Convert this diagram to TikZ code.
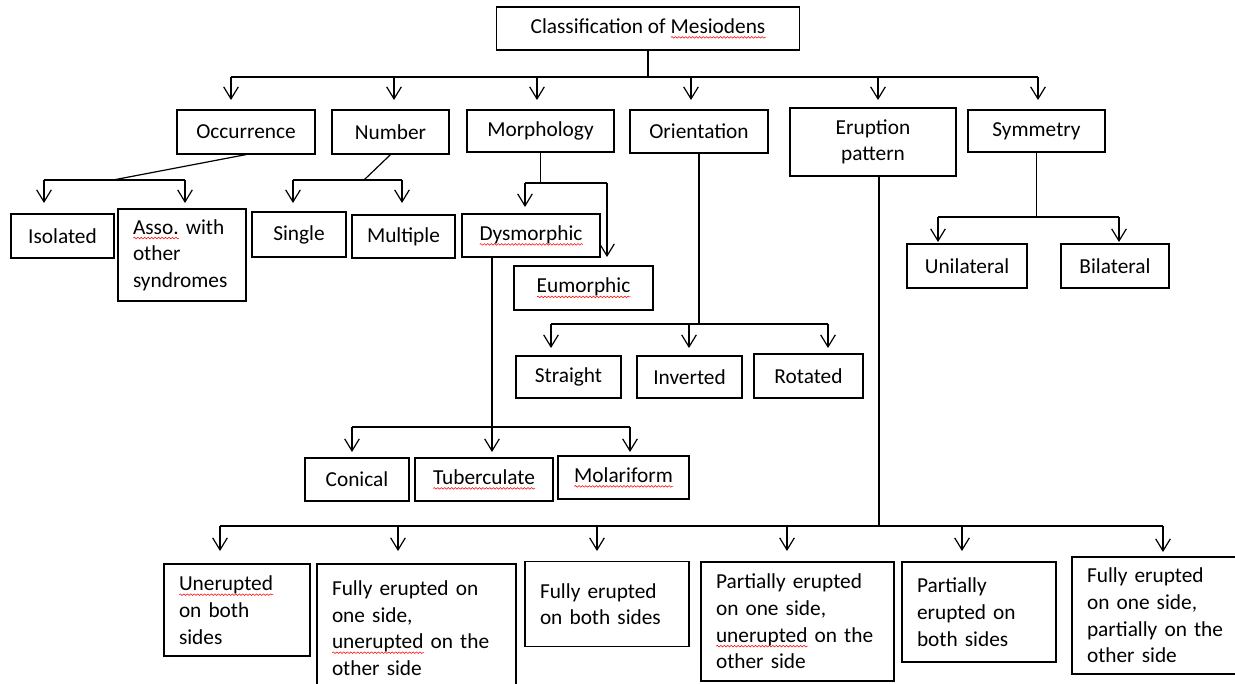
\documentclass[tikz,border=0pt]{standalone}
\usepackage{fontspec}
\setmainfont{Carlito}
\usetikzlibrary{arrows.meta,decorations.pathmorphing}
\frenchspacing

% red spell-check wave under a word
\newsavebox\spellbox
\newcommand\spell[1]{\leavevmode\sbox\spellbox{#1}\rlap{\tikz[baseline=3pt]\draw[red,line width=0.4pt,
  decorate,decoration={snake,amplitude=0.6pt,segment length=2.6pt}] (0pt,0pt) -- (\wd\spellbox,0pt);}#1}

\begin{document}
\begin{tikzpicture}[x=0.75pt,y=-0.75pt,line width=0.9pt,
  >={Straight Barb[length=9pt,width=11pt]},
  box/.style={draw,inner sep=0pt,align=center,font=\fontsize{16}{20}\selectfont},
  tbox/.style={box,align=left,inner xsep=11.25pt}]
\useasboundingbox (0,0) rectangle (1235,683);

% Title and first level
\node[box,minimum width=227.25pt,minimum height=32.25pt] (title) at (648,28.5) {Classification of \spell{Mesiodens}};
\node[box,minimum width=103.5pt,minimum height=33pt] (occ) at (246,132) {Occurrence};
\node[box,minimum width=87.75pt,minimum height=33pt] (num) at (390.5,132) {Number};
\node[box,minimum width=110.25pt,minimum height=31.5pt] (mor) at (540.5,131) {Morphology};
\node[box,minimum width=103.5pt,minimum height=32.25pt] (ori) at (699,131.5) {Orientation};
\node[box,minimum width=124.5pt,minimum height=51pt] (eru) at (873,142) {Eruption\\pattern};
\node[box,minimum width=102.75pt,minimum height=31.5pt] (sym) at (1036.5,131) {Symmetry};

% Second level
\node[box,minimum width=77.25pt,minimum height=33pt] (iso) at (62.5,236) {Isolated};
\node[tbox,text width=73.5pt,minimum height=69pt] (asso) at (182,255) {\spell{Asso.} with\\other\\syndromes};
\node[box,minimum width=70.5pt,minimum height=33.75pt] (sing) at (299,234.5) {Single};
\node[box,minimum width=77.25pt,minimum height=32.25pt] (mult) at (403.5,236.5) {Multiple};
\node[box,minimum width=103.5pt,minimum height=32.25pt] (dys) at (531,235.5) {\spell{Dysmorphic}};
\node[box,minimum width=104.25pt,minimum height=33pt] (eum) at (583.5,288) {\spell{Eumorphic}};
\node[box,minimum width=78.75pt,minimum height=31.5pt] (str) at (568.5,377) {Straight};
\node[box,minimum width=78.75pt,minimum height=31.5pt] (inv) at (689.5,377) {Inverted};
\node[box,minimum width=81.75pt,minimum height=33pt] (rot) at (808.5,376) {Rotated};
\node[box,minimum width=78pt,minimum height=32.25pt] (con) at (357,479.5) {Conical};
\node[box,minimum width=103.5pt,minimum height=32.25pt] (tub) at (484,479.5) {\spell{Tuberculate}};
\node[box,minimum width=98.25pt,minimum height=32.25pt] (mol) at (623.5,477.5) {\spell{Molariform}};
\node[box,minimum width=90pt,minimum height=33pt] (uni) at (967,266) {Unilateral};
\node[box,minimum width=81pt,minimum height=33pt] (bil) at (1115,266) {Bilateral};

% Eruption pattern boxes
\node[tbox,text width=87pt,minimum height=69pt] (b1) at (237,610) {\spell{Unerupted}\\on both\\sides};
\node[tbox,text width=126.75pt,minimum height=96pt] (b2) at (416.5,628) {Fully erupted on\\one side,\\\spell{unerupted} on the\\other side};
\node[tbox,text width=100.5pt,minimum height=63.75pt] (b3) at (607,604) {Fully erupted\\on both sides};
\node[tbox,text width=122.25pt,minimum height=89.25pt] (b4) at (797.5,621.5) {Partially erupted\\on one side,\\\spell{unerupted} on the\\other side};
\node[tbox,text width=93pt,minimum height=75pt] (b5) at (979,612) {Partially\\erupted on\\both sides};
\node[tbox,text width=111pt,minimum height=87.75pt] (b6) at (1161,615.5) {Fully erupted\\on one side,\\partially on the\\other side};

% Junctions and arrow tips
\coordinate (top) at (648,77);
\coordinate (tOcc) at (231,100); \coordinate (tNum) at (394,100);
\coordinate (tMor) at (537,100); \coordinate (tOri) at (691,100);
\coordinate (tEru) at (878,100); \coordinate (tSym) at (1038,100);

\coordinate (jOcc) at (113,180); \coordinate (tIso) at (44,203); \coordinate (tAsso) at (185,203);
\coordinate (jNum) at (364,180); \coordinate (tSing) at (293,203); \coordinate (tMult) at (402,203);
\coordinate (jMor) at (540.5,183); \coordinate (tDys) at (525,207); \coordinate (tEum) at (607,257);
\coordinate (jOri) at (699,324); \coordinate (tStr) at (551,348); \coordinate (tInv) at (689,348); \coordinate (tRot) at (828,348);
\coordinate (jDys) at (492,427); \coordinate (tCon) at (352,452); \coordinate (tTub) at (492,452); \coordinate (tMol) at (630,452);
\coordinate (jSym) at (1036.5,217); \coordinate (tUni) at (938,242); \coordinate (tBil) at (1119,242);
\coordinate (jEru) at (879,526);
\coordinate (t1) at (220,551); \coordinate (t2) at (398,551); \coordinate (t3) at (597,551);
\coordinate (t4) at (787,551); \coordinate (t5) at (962,551); \coordinate (t6) at (1163,552);

% Top bus
\draw (title.south) -- (title.south |- top);
\draw (top -| tOcc) -- (top -| tSym);
\foreach \t in {tOcc,tNum,tMor,tOri,tEru,tSym} \draw[->] (top -| \t) -- (\t);

% Occurrence, Number
\draw (occ.south) -- (jOcc);
\draw (jOcc -| tIso) -- (jOcc -| tAsso);
\foreach \t in {tIso,tAsso} \draw[->] (jOcc -| \t) -- (\t);
\draw (num.south) -- (jNum);
\draw (jNum -| tSing) -- (jNum -| tMult);
\foreach \t in {tSing,tMult} \draw[->] (jNum -| \t) -- (\t);

% Morphology
\draw (mor.south) -- (jMor);
\draw (jMor -| tDys) -- (jMor -| tEum);
\foreach \t in {tDys,tEum} \draw[->] (jMor -| \t) -- (\t);
\draw (dys.south -| jDys) -- (jDys);
\draw (jDys -| tCon) -- (jDys -| tMol);
\foreach \t in {tCon,tTub,tMol} \draw[->] (jDys -| \t) -- (\t);

% Orientation
\draw (ori.south) -- (jOri);
\draw (jOri -| tStr) -- (jOri -| tRot);
\foreach \t in {tStr,tInv,tRot} \draw[->] (jOri -| \t) -- (\t);

% Symmetry
\draw (sym.south) -- (jSym);
\draw (jSym -| tUni) -- (jSym -| tBil);
\foreach \t in {tUni,tBil} \draw[->] (jSym -| \t) -- (\t);

% Eruption pattern
\draw (eru.south -| jEru) -- (jEru);
\draw (jEru -| t1) -- (jEru -| t6);
\foreach \t in {t1,t2,t3,t4,t5,t6} \draw[->] (jEru -| \t) -- (\t);

\end{tikzpicture}
\end{document}
